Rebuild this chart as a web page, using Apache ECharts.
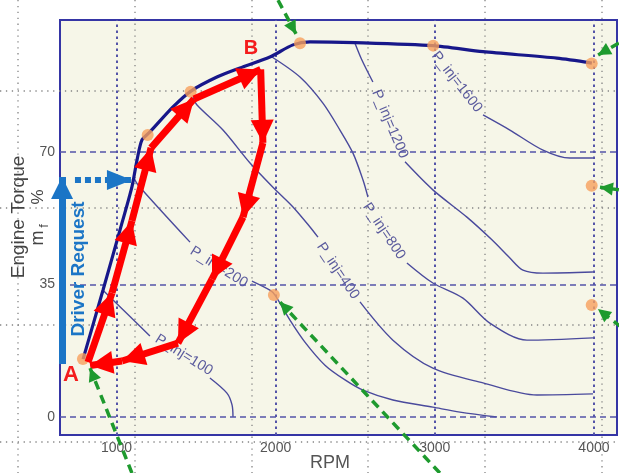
<!DOCTYPE html>
<html><head><meta charset="utf-8">
<script src="https://cdn.jsdelivr.net/npm/echarts@6/dist/echarts.min.js"></script>
<style>html,body{margin:0;padding:0;background:#fff}#c{width:619px;height:473px}</style>
</head><body><div id="c"></div>
<script>
// ---- axes ----
const rpmTicks = [1000, 2000, 3000, 4000];
const torqueTicks = [0, 35, 70];

// ---- full-load curve ----
const fullLoadRpm = [790, 915, 1022, 1097, 1129, 1160, 1210, 1355, 1468, 1631, 1776, 1964, 2109, 2216, 2498, 2988, 3303, 3767, 3987];
const fullLoadTorque = [15.3, 33.5, 49.4, 60.8, 67.9, 73.2, 75.3, 81.9, 86.1, 89.8, 92.2, 95.1, 98.3, 99.1, 98.9, 98.1, 96.5, 94.8, 93.5];

// ---- operating points (orange) ----
const pointRpm = [789, 1196, 1466, 2153, 2990, 3986, 3986, 3986, 1989];
const pointTorque = [15.3, 74.5, 85.9, 98.7, 98.1, 93.4, 61.1, 29.6, 32.2];

// ---- iso injection-pressure contours (null = gap for label) ----
const pInj100Rpm = [915, 978, 1210, null, 1587, 1694, 1726, 1732];
const pInj100Torque = [33.5, 30.9, 21.4, null, 10.3, 6.3, 3.2, 0];
const pInj200Rpm = [1110, 1135, 1462, null, 1851, 1964, 1996, 2090, 2184, 2310, 2436, 2549, 2737, 2988, 3158, 3391];
const pInj200Torque = [63.1, 61.3, 46.2, null, 35.9, 33.5, 32.2, 25.6, 19.8, 13.7, 9.8, 7.1, 4.5, 2.6, 1.3, 0];
const pInj400Rpm = [1480, 1506, 1669, 1839, 1983, 2109, 2216, 2266, null, 2530, 2737, 2988, 3303, 3642, 3994];
const pInj400Torque = [84.5, 82.4, 75.8, 67.1, 60.7, 55.5, 50.2, 47.5, null, 30.4, 20.3, 12.9, 9.0, 5.8, 6.1];
const pInj800Rpm = [1977, 2153, 2297, 2404, 2486, 2549, 2580, null, 2825, 2988, 3177, 3346, 3579, 3994];
const pInj800Torque = [95.1, 89.8, 82.9, 75.8, 69.7, 62.6, 58.1, null, 40.7, 35.4, 31.4, 24.8, 20.3, 20.9];
const pInj1200Rpm = [2498, 2542, 2611, null, 2813, 2988, 3202, 3359, 3472, 3554, 3680, 3994];
const pInj1200Torque = [98.8, 94.3, 88.5, null, 67.4, 60.0, 52.8, 46.8, 42.0, 38.8, 38.0, 38.3];
const pInj1600Rpm = [3303, 3472, 3680, 3849, 3994];
const pInj1600Torque = [79.8, 75.8, 70.5, 68.4, 68.4];

// ---- contour labels ----
const contourLabels = ['P_inj=100', 'P_inj=200', 'P_inj=400', 'P_inj=800', 'P_inj=1200', 'P_inj=1600'];
const labelRpm = [1424, 1644, 2392, 2681, 2718, 3139];
const labelTorque = [16.4, 39.6, 38.6, 49.1, 77.4, 88.5];
const labelAngle = [-32, -32, -56, -56, -67, -52];

// ---- red loop A -> B -> A (arrow tips) ----
const loopRpm = [821, 972, 1097, 1217, 1487, 1906, 1920, 1795, 1600, 1386, 1035, 834];
const loopTorque = [14.5, 32.8, 51.8, 71.1, 84.0, 91.8, 72.4, 52.8, 36.4, 19.5, 14.8, 13.6];

// ---- driver request arrows ----
const requestRpm = [658, 658];
const requestTorque = [14.0, 63.4];
const stepRpm = [739, 1097];
const stepTorque = [62.6, 62.6];

// ---- green dashed arrows: start -> tip ----
const greenFromRpm = [2015, 4157, 4157, 4170, 3032, 1097];
const greenFromTorque = [110.1, 98.8, 60.0, 23.8, -14.8, -14.8];
const greenToRpm = [2128, 4025, 4038, 4025, 2027, 834];
const greenToTorque = [101.2, 95.6, 60.7, 28.5, 30.4, 12.9];

// ---------------------------------------------------------------
const HEAD = 'path://M0,0L6,12L-6,12Z M0,-12L0,-12';
function pairs(xs, ys) { return xs.map((x, i) => [x, ys[i]]); }
function segments(xs, ys) {
  const segs = []; let cur = [];
  xs.forEach((x, i) => {
    if (x === null) { if (cur.length) segs.push(cur); cur = []; }
    else cur.push([x, ys[i]]);
  });
  if (cur.length) segs.push(cur);
  return segs;
}
function chain(xs, ys) {
  const out = [];
  for (let i = 0; i < xs.length - 1; i++) out.push({ coords: [[xs[i], ys[i]], [xs[i + 1], ys[i + 1]]] });
  return out;
}
function fromTo(x0, y0, x1, y1) { return x0.map((_, i) => ({ coords: [[x0[i], y0[i]], [x1[i], y1[i]]] })); }

const contourList = [
  [pInj100Rpm, pInj100Torque], [pInj200Rpm, pInj200Torque], [pInj400Rpm, pInj400Torque],
  [pInj800Rpm, pInj800Torque], [pInj1200Rpm, pInj1200Torque], [pInj1600Rpm, pInj1600Torque]
];

const series = [];
series.push({
  type: 'line', data: [], silent: true, z: 1,
  markLine: {
    silent: true, symbol: ['none', 'none'], label: { show: false }, animation: false,
    data: [
      ...rpmTicks.map(v => ({ xAxis: v, lineStyle: { color: '#5454a8', width: 2, type: [2.5, 3.5] } })),
      ...torqueTicks.map(v => ({ yAxis: v, lineStyle: { color: '#5454a8', width: 1.6, type: [6, 4] } }))
    ]
  }
});
contourList.forEach(([xs, ys]) => {
  segments(xs, ys).forEach(seg => {
    series.push({
      type: 'line', data: seg, showSymbol: false, symbol: 'none', smooth: 0.3, silent: true, z: 3,
      lineStyle: { color: '#4a4a9c', width: 1.4 }
    });
  });
});
series.push({
  type: 'scatter', silent: true, z: 4, symbolSize: 1, itemStyle: { color: 'rgba(0,0,0,0)' },
  data: contourLabels.map((n, i) => ({
    name: n, value: [labelRpm[i], labelTorque[i]],
    label: { rotate: labelAngle[i] }
  })),
  label: { show: true, position: 'inside', formatter: p => p.name, color: '#33338a', fontSize: 14.5, fontFamily: 'Liberation Sans' }
});
series.push({
  type: 'line', data: pairs(fullLoadRpm, fullLoadTorque), showSymbol: false, symbol: 'none', smooth: 0.25, silent: true, z: 5,
  lineStyle: { color: '#17178a', width: 3.2 }
});
series.push({
  type: 'lines', coordinateSystem: 'cartesian2d', clip: false, silent: true, z: 9,
  symbol: ['none', HEAD], symbolSize: [0, [23, 46]],
  lineStyle: { color: '#ff0000', width: 7, opacity: 1, curveness: 0 },
  data: chain(loopRpm, loopTorque)
});
series.push({
  type: 'scatter', data: pairs(pointRpm, pointTorque), symbolSize: 12, silent: true, z: 8,
  itemStyle: { color: '#f7a05c' }
});
series.push({
  type: 'lines', coordinateSystem: 'cartesian2d', clip: false, silent: true, z: 10,
  symbol: ['none', HEAD], symbolSize: [0, [22, 44]],
  lineStyle: { color: '#1b75c6', width: 7, opacity: 1 },
  data: fromTo([requestRpm[0]], [requestTorque[0]], [requestRpm[1]], [requestTorque[1]])
});
series.push({
  type: 'lines', coordinateSystem: 'cartesian2d', clip: false, silent: true, z: 10,
  symbol: ['none', HEAD], symbolSize: [0, [20, 50]],
  lineStyle: { color: '#1b75c6', width: 6, opacity: 1, type: [6, 4] },
  data: fromTo([stepRpm[0]], [stepTorque[0]], [stepRpm[1]], [stepTorque[1]])
});
series.push({
  type: 'lines', coordinateSystem: 'cartesian2d', clip: false, silent: true, z: 12,
  symbol: ['none', HEAD], symbolSize: [0, [13, 26]],
  lineStyle: { color: '#1e9a2e', width: 3.5, opacity: 1, type: [9, 6] },
  data: fromTo(greenFromRpm, greenFromTorque, greenToRpm, greenToTorque)
});

// faint paper grid (decoration)
const graphics = [];
[18, 135, 252, 368, 485, 602].forEach(x => graphics.push({
  type: 'line', z: 1, silent: true, shape: { x1: x, y1: 0, x2: x, y2: 473 },
  style: { stroke: '#858585', lineWidth: 1.3, lineDash: [1.3, 4.6] }
}));
[91, 208, 325, 442].forEach(y => graphics.push({
  type: 'line', z: 1, silent: true, shape: { x1: 0, y1: y, x2: 619, y2: y },
  style: { stroke: '#858585', lineWidth: 1.3, lineDash: [1.3, 4.6] }
}));
function txt(t, x, y, font, fill, rot) {
  return { type: 'text', z: 100, silent: true, x: x, y: y, rotation: rot || 0,
    style: { text: t, font: font, fill: fill, align: 'center', verticalAlign: 'middle' } };
}
graphics.push(txt('Engine Torque', 19, 217, '19px "Liberation Sans"', '#444', Math.PI / 2));
graphics.push(txt('m', 38, 238, '18px "Liberation Sans"', '#444', Math.PI / 2));
graphics.push(txt('f', 44, 226, '13px "Liberation Sans"', '#444', Math.PI / 2));
graphics.push(txt('%', 38, 197, '17px "Liberation Sans"', '#444', Math.PI / 2));
graphics.push(txt('RPM', 330, 463, '18px "Liberation Sans"', '#555'));
graphics.push(txt('Driver Request', 79, 269, 'bold 19px "Liberation Sans"', '#1b75c6', Math.PI / 2));
graphics.push(txt('A', 71, 375, 'bold 22px "Liberation Sans"', '#f41c1c'));
graphics.push(txt('B', 251, 48, 'bold 20px "Liberation Sans"', '#f41c1c'));

const chart = echarts.init(document.getElementById('c'), null, { renderer: 'canvas', width: 619, height: 473 });
chart.setOption({
  animation: false,
  backgroundColor: '#ffffff',
  grid: { left: 60, right: 2, top: 20, bottom: 38, show: true, backgroundColor: '#f6f6e8', borderColor: '#3535a5', borderWidth: 2 },
  xAxis: {
    type: 'value', min: 645, max: 4145,
    axisLine: { show: false, onZero: false }, axisTick: { show: false }, splitLine: { show: false },
    axisLabel: { customValues: rpmTicks, formatter: v => String(v), color: '#555', fontSize: 14, margin: 6, fontFamily: 'Liberation Sans' }
  },
  yAxis: {
    type: 'value', min: -4.75, max: 104.87,
    axisLine: { show: false, onZero: false }, axisTick: { show: false }, splitLine: { show: false },
    axisLabel: { customValues: torqueTicks, formatter: v => String(v), color: '#555', fontSize: 14, margin: 5, fontFamily: 'Liberation Sans' }
  },
  graphic: graphics,
  series: series
});
</script></body></html>
